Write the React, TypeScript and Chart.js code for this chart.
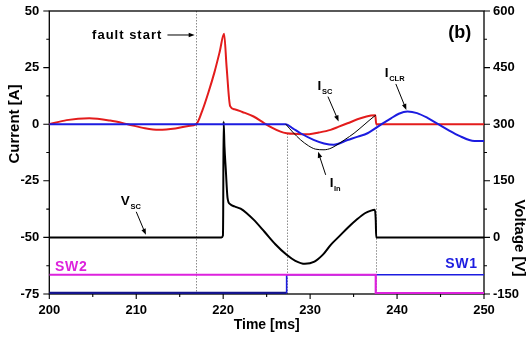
import { useEffect, useRef } from 'react';
import { Chart, registerables } from 'chart.js';

Chart.register(...registerables);

const FONT = '"Liberation Sans", Arial, Helvetica, sans-serif';

// I_SC — current through the short-circuit branch [A]
const iscTime = [200, 202, 204.6, 207, 209, 211, 212.6, 214.5, 216, 216.9, 217.6, 218.3, 219.0, 219.6, 220.1, 220.4, 220.8, 221.3, 222.2, 223.5, 224.7, 225.6, 226.6, 227.3, 228.5, 229.9, 231.0, 232.35, 233.3, 234.3, 235.8, 237.0, 237.5, 237.6, 250];
const iscCurrent = [0, 1.8, 2.6, 1.6, 0, -1.8, -2.5, -1.9, -0.8, 0, 6, 14, 23, 32, 40, 25, 8, 6.6, 5.4, 3.4, 0.5, -1.5, -3.3, -4.0, -4.3, -4.4, -3.7, -2.5, -1.1, 0.4, 2.6, 3.8, 3.9, 0, 0];

// I_CLR — current limiter branch [A]
const iclrTime = [200, 227.2, 228.0, 228.9, 230.4, 231.6, 232.7, 234.3, 235.5, 236.6, 238.1, 239.3, 240.2, 241.2, 242.3, 243.5, 244.75, 246.0, 247.3, 248.3, 248.9, 250];
const iclrCurrent = [0, 0, -1.8, -4, -6.9, -8.5, -9.1, -7, -5.5, -4, -0.3, 2.6, 4.6, 5.6, 4.9, 2.8, 0, -2.8, -5.4, -7.0, -7.4, -7.4];

// I_in — input current while both branches conduct [A]
const iinTime = [227.2, 228.0, 228.9, 229.8, 230.6, 231.6, 232.4, 233.1, 234.0, 235.05, 236.2, 237.35, 237.55];
const iinCurrent = [0, -3.5, -6.9, -9.5, -11, -11.3, -10.6, -9.1, -6.8, -4, -0.3, 3.4, 3.9];

// V_SC — voltage across the short-circuit element [V]
const vscTime = [200, 219.8, 219.97, 220.0, 220.05, 220.15, 220.3, 220.5, 220.8, 221.3, 222.0, 222.8, 223.5, 224.75, 226.0, 227.3, 228.3, 229.4, 230.5, 231.5, 232.4, 233.4, 234.3, 235.3, 236.3, 237.0, 237.45, 237.55, 237.6, 250];
const vscVoltage = [0, 0, 5, 60, 307, 240, 180, 105, 88, 82, 76, 62, 47, 15, -18, -46, -62, -70, -64, -45, -19, 4, 25, 46, 64, 71, 73, 45, 0, 0];

// Switch states (drawn as logic traces near the bottom of the current axis)
const swOn = -66.5;
const swOff = -74.6;
const sw1SwitchTime = 227.3; // SW1 closes
const sw2SwitchTime = 237.55; // SW2 opens

// Event markers (time, current level where the marker starts)
const eventTimes = [216.9, 227.3, 237.55];
const eventTops = [50, -4.1, 0];

// Axis ranges and tick steps
const timeRange = [200, 250];
const currentRange = [-75, 50];
const voltageRange = [-150, 600];
const timeStep = 10;
const currentStep = 25;
const voltageStep = 150;

// Curve callouts: label anchor and arrow (time, current)
const callouts = [
  { main: 'I', sub: 'SC', t: 230.86, a: 15.13, from: [232.05, 12.18], to: [233.28, 1.24] },
  { main: 'I', sub: 'CLR', t: 238.59, a: 20.87, from: [239.86, 17.78], to: [241.07, 6.31] },
  { main: 'I', sub: 'In', t: 232.25, a: -27.66, from: [231.79, -22.37], to: [230.92, -12.22] },
  { main: 'V', sub: 'SC', t: 208.23, a: -35.6, from: [210.0, -38.69], to: [211.11, -48.84] },
];

const RED = '#e31c1c';
const BLUE = '#1c1ce0';
const NAVY = '#14148c';
const MAGENTA = '#dd22dd';

const pts = (xs: number[], ys: number[]) => xs.map((x, i) => ({ x, y: ys[i] }));

const swTrace = (start: number, switchAt: number, end: number) =>
  start === swOn
    ? [{ x: timeRange[0], y: swOn }, { x: switchAt, y: swOn }, { x: switchAt, y: swOff }, { x: timeRange[1], y: swOff }]
    : [{ x: timeRange[0], y: swOff }, { x: switchAt, y: swOff }, { x: switchAt, y: swOn }, { x: timeRange[1], y: end }];

function arrow(ctx: CanvasRenderingContext2D, x0: number, y0: number, x1: number, y1: number) {
  const ang = Math.atan2(y1 - y0, x1 - x0);
  const hl = 6;
  const hw = 2.3;
  ctx.beginPath();
  ctx.moveTo(x0, y0);
  ctx.lineTo(x1 - Math.cos(ang) * hl * 0.8, y1 - Math.sin(ang) * hl * 0.8);
  ctx.stroke();
  ctx.beginPath();
  ctx.moveTo(x1, y1);
  ctx.lineTo(x1 - Math.cos(ang) * hl - Math.sin(ang) * hw, y1 - Math.sin(ang) * hl + Math.cos(ang) * hw);
  ctx.lineTo(x1 - Math.cos(ang) * hl + Math.sin(ang) * hw, y1 - Math.sin(ang) * hl - Math.cos(ang) * hw);
  ctx.closePath();
  ctx.fill();
}

const decor = {
  id: 'decor',
  beforeDatasetsDraw(chart: any) {
    const { ctx, chartArea: ca, scales } = chart;
    const xs = scales.x, ys = scales.y, vs = scales.y1;

    // dotted event markers
    ctx.save();
    ctx.strokeStyle = '#8a8a8a';
    ctx.lineWidth = 1;
    ctx.setLineDash([1.5, 1.5]);
    eventTimes.forEach((t, i) => {
      const px = Math.round(xs.getPixelForValue(t)) + 0.5;
      ctx.beginPath();
      ctx.moveTo(px, ys.getPixelForValue(eventTops[i]));
      ctx.lineTo(px, ca.bottom);
      ctx.stroke();
    });
    ctx.restore();

    // frame
    ctx.save();
    ctx.strokeStyle = '#000';
    ctx.lineWidth = 1.3;
    ctx.strokeRect(ca.left, ca.top, ca.right - ca.left, ca.bottom - ca.top);

    // tick marks (outward)
    ctx.lineWidth = 1.1;
    ctx.beginPath();
    for (let v = timeRange[0]; v <= timeRange[1] + 1e-6; v += timeStep / 2) {
      const px = xs.getPixelForValue(v);
      const len = Math.abs(v % timeStep) < 1e-6 ? 5 : 3;
      ctx.moveTo(px, ca.bottom);
      ctx.lineTo(px, ca.bottom + len);
    }
    for (let v = currentRange[0]; v <= currentRange[1] + 1e-6; v += currentStep / 2) {
      const py = ys.getPixelForValue(v);
      const len = Math.abs(v % currentStep) < 1e-6 ? 6 : 3;
      ctx.moveTo(ca.left, py);
      ctx.lineTo(ca.left - len, py);
    }
    for (let v = voltageRange[0]; v <= voltageRange[1] + 1e-6; v += voltageStep / 2) {
      const py = vs.getPixelForValue(v);
      const len = Math.abs(v % voltageStep) < 1e-6 ? 6 : 3;
      ctx.moveTo(ca.right, py);
      ctx.lineTo(ca.right + len, py);
    }
    ctx.stroke();
    ctx.restore();
  },
  afterDatasetsDraw(chart: any) {
    const { ctx, scales } = chart;
    const xs = scales.x, ys = scales.y;
    const X = (t: number) => xs.getPixelForValue(t);
    const Y = (a: number) => ys.getPixelForValue(a);

    ctx.save();
    ctx.fillStyle = '#000';
    ctx.strokeStyle = '#000';
    ctx.lineWidth = 1;

    // fault start marker
    ctx.font = `bold 13px ${FONT}`;
    ctx.textAlign = 'right';
    ctx.textBaseline = 'middle';
    (ctx as any).letterSpacing = '1px';
    ctx.fillText('fault start', X(213.0), Y(39.4));
    (ctx as any).letterSpacing = '0px';
    arrow(ctx, X(213.59), Y(39.4), X(216.72), Y(39.4));

    // panel tag
    ctx.font = `bold 18px ${FONT}`;
    ctx.textAlign = 'center';
    ctx.fillText('(b)', X(247.2), Y(40.28));

    // curve callouts
    callouts.forEach((c) => {
      const x0 = X(c.t), y0 = Y(c.a);
      ctx.textAlign = 'left';
      ctx.textBaseline = 'alphabetic';
      ctx.font = `bold 13.5px ${FONT}`;
      ctx.fillText(c.main, x0, y0);
      const w = ctx.measureText(c.main).width;
      ctx.font = `bold 7.5px ${FONT}`;
      ctx.fillText(c.sub, x0 + w + 0.6, y0 + 4.5);
      arrow(ctx, X(c.from[0]), Y(c.from[1]), X(c.to[0]), Y(c.to[1]));
    });

    // switch labels
    ctx.font = `bold 14px ${FONT}`;
    (ctx as any).letterSpacing = '0.7px';
    ctx.fillStyle = MAGENTA;
    ctx.textAlign = 'left';
    ctx.fillText('SW2', X(200.66), Y(-64.9));
    ctx.fillStyle = BLUE;
    ctx.textAlign = 'right';
    ctx.fillText('SW1', X(249.27), Y(-63.5));
    (ctx as any).letterSpacing = '0px';
    ctx.restore();
  },
  afterDraw(chart: any) {
    const { ctx, chartArea: ca } = chart;
    ctx.save();
    ctx.fillStyle = '#000';
    ctx.textAlign = 'center';
    ctx.textBaseline = 'middle';
    ctx.font = `bold 14px ${FONT}`;
    ctx.fillText('Time [ms]', (ca.left + ca.right) / 2, 325);

    ctx.font = `bold 15px ${FONT}`;
    ctx.save();
    ctx.translate(15, 124);
    ctx.rotate(-Math.PI / 2);
    ctx.fillText('Current [A]', 0, 0);
    ctx.restore();

    ctx.save();
    ctx.translate(519, 238);
    ctx.rotate(Math.PI / 2);
    ctx.fillText('Voltage [V]', 0, 0);
    ctx.restore();
    ctx.restore();
  },
};

// fixed axis thickness; no extra room reserved for overhanging end labels
const fixWidth = (w: number) => (s: any) => {
  s.width = w;
  s.paddingTop = 0;
  s.paddingBottom = 0;
};

export default function App() {
  const ref = useRef<HTMLCanvasElement | null>(null);

  useEffect(() => {
    if (!ref.current) return;
    const tickFont = { family: FONT, size: 13, weight: 'bold' as const };
    const line = { pointRadius: 0, fill: false, cubicInterpolationMode: 'monotone' as const };

    const chart = new Chart(ref.current, {
      type: 'line',
      data: {
        datasets: [
          { ...line, label: 'I_in', data: pts(iinTime, iinCurrent), borderColor: '#000', borderWidth: 1, yAxisID: 'y', order: 0 },
          { ...line, label: 'I_CLR', data: pts(iclrTime, iclrCurrent), borderColor: BLUE, borderWidth: 2, yAxisID: 'y', order: 1 },
          { ...line, label: 'I_SC', data: pts(iscTime, iscCurrent), borderColor: RED, borderWidth: 2, yAxisID: 'y', order: 2 },
          { ...line, label: 'V_SC', data: pts(vscTime, vscVoltage), borderColor: '#000', borderWidth: 2, yAxisID: 'y1', order: 3 },
          { label: 'SW2', data: swTrace(swOn, sw2SwitchTime, swOff), borderColor: MAGENTA, borderWidth: 2.2, pointRadius: 0, tension: 0, yAxisID: 'y', order: 4 },
          {
            label: 'SW1',
            data: swTrace(swOff, sw1SwitchTime, swOn),
            borderColor: BLUE,
            borderWidth: 1.6,
            pointRadius: 0,
            tension: 0,
            yAxisID: 'y',
            order: 5,
            segment: {
              borderColor: (c: any) => (c.p0.parsed.y < -70 && c.p1.parsed.y < -70 ? NAVY : BLUE),
              borderWidth: (c: any) => (c.p0.parsed.y < -70 && c.p1.parsed.y < -70 ? 2.6 : 1.6),
            },
          },
        ],
      },
      options: {
        animation: false,
        responsive: false,
        devicePixelRatio: 1,
        layout: { padding: { top: 11, left: 0, right: 0, bottom: 0 } },
        plugins: { legend: { display: false }, tooltip: { enabled: false } },
        scales: {
          x: {
            type: 'linear',
            min: timeRange[0],
            max: timeRange[1],
            grid: { display: false, drawTicks: false },
            border: { display: false },
            ticks: { stepSize: timeStep, font: tickFont, color: '#000', padding: 9, maxRotation: 0 },
            afterFit: (s: any) => {
              s.height = 43;
              s.paddingLeft = 0;
              s.paddingRight = 0;
            },
          },
          y: {
            type: 'linear',
            position: 'left',
            min: currentRange[0],
            max: currentRange[1],
            grid: { display: false, drawTicks: false },
            border: { display: false },
            ticks: { stepSize: currentStep, font: tickFont, color: '#000', padding: 10 },
            afterFit: fixWidth(49.3),
          },
          y1: {
            type: 'linear',
            position: 'right',
            min: voltageRange[0],
            max: voltageRange[1],
            grid: { display: false, drawTicks: false },
            border: { display: false },
            ticks: { stepSize: voltageStep, font: tickFont, color: '#000', padding: 9 },
            afterFit: fixWidth(44),
          },
        },
      },
      plugins: [decor],
    } as any);

    return () => chart.destroy();
  }, []);

  return (
    <div style={{ position: 'absolute', left: 0, top: 0, width: 528, height: 337, background: '#fff' }}>
      <canvas ref={ref} width={528} height={337} style={{ display: 'block' }} />
    </div>
  );
}
